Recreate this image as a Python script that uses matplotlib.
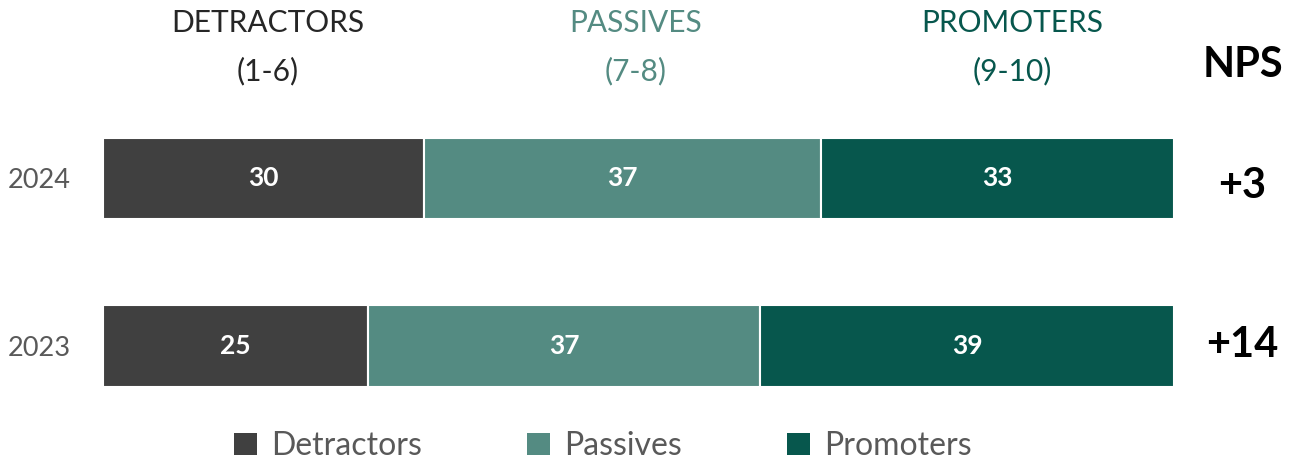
import matplotlib.pyplot as plt
from matplotlib.patches import Patch

plt.rcParams['font.family'] = ['Lato', 'DejaVu Sans']

years = ['2024', '2023']
detractors = [30, 25]
passives = [37, 37]
promoters = [33, 39]
nps_labels = ['+3', '+14']
segment_names = ['Detractors', 'Passives', 'Promoters']
header_titles = ['DETRACTORS', 'PASSIVES', 'PROMOTERS']
header_ranges = ['(1-6)', '(7-8)', '(9-10)']

colors = ['#404040', '#548B82', '#07574D']
header_colors = ['#262626', '#548B82', '#07574D']

W, H = 1299, 463
fig = plt.figure(figsize=(W / 100, H / 100), dpi=100)
ax = fig.add_axes([103 / W, 1 - 405 / H, (1174 - 103) / W, 285 / H])

ypos = [1, 0]
series = [detractors, passives, promoters]
for i, y in enumerate(ypos):
    total = sum(s[i] for s in series)
    left = 0
    for s, c in zip(series, colors):
        w = s[i] / total * 100
        ax.barh(y, w, left=left, height=0.485, color=c, edgecolor='white', linewidth=1.5)
        ax.text(left + w / 2, y, f'{s[i]}', ha='center', va='center', color='white',
                fontsize=19, fontweight='bold')
        left += w

ax.set_xlim(0, 100)
ax.set_ylim(-0.352, 1.349)
ax.set_yticks(ypos)
ax.set_yticklabels(years, fontsize=19.5, color='#595959')
ax.tick_params(axis='y', length=0, pad=23)
ax.set_xticks([])
for sp in ax.spines.values():
    sp.set_visible(False)

# column headers
for x, t, r, c in zip([268, 636, 1012], header_titles, header_ranges, header_colors):
    fig.text(x / W, 1 - 23 / H, t, ha='center', va='center', fontsize=21.5, color=c)
    fig.text(x / W, 1 - 71 / H, r, ha='center', va='center', fontsize=21.5, color=c)

fig.text(1243 / W, 1 - 65 / H, 'NPS', ha='center', va='center', fontsize=30,
         fontweight='bold', color='black')
for y, lab in zip([186, 345], nps_labels):
    fig.text(1242 / W, 1 - y / H, lab, ha='center', va='center', fontsize=30,
             fontweight='bold', color='black')

handles = [Patch(facecolor=c, edgecolor='none') for c in colors]
fig.legend(handles, segment_names, loc='center', bbox_to_anchor=(603 / W, 1 - 446 / H),
           ncol=3, frameon=False, fontsize=23, labelcolor='#595959',
           handlelength=0.7, handleheight=0.7, handletextpad=0.45, columnspacing=3.3)

fig.savefig('out.png', dpi=100)
